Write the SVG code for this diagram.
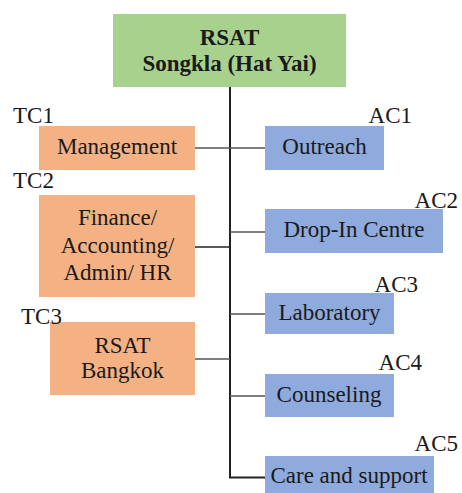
<svg xmlns="http://www.w3.org/2000/svg" width="462" height="493" viewBox="0 0 462 493">
<style>
.t{font-size:23px;fill:#1a1a1a}
.c{text-anchor:middle}
.e{text-anchor:end}
.b{font-weight:bold}
.g{fill:#A9D18E}
.o{fill:#F4B183}
.u{fill:#8FAADC}
.ln{stroke:#222;fill:none}
.lg{stroke:#555;stroke-width:1.5;fill:none}
</style>
<rect width="462" height="493" fill="#fff"/>
<g id="connectors">
<path class="ln" stroke-width="2" d="M230 87V477.5H266"/>
<path class="lg" d="M195 148H266"/>
<path class="ln" stroke-width="1.6" d="M195 247H230"/>
<path class="lg" d="M230 232H266"/>
<path class="lg" d="M230 314H266"/>
<path class="lg" d="M195 359H230"/>
<path class="lg" d="M230 396H266"/>
</g>
<g id="root">
<rect class="g" x="113" y="14" width="233" height="73"/>
<text class="t c b" font-family="Times New Roman" x="229.5" y="45">RSAT</text>
<text class="t c b" font-family="Times New Roman" x="229.5" y="71">Songkla (Hat Yai)</text>
</g>
<g id="tc1">
<text class="t" font-family="Times New Roman" x="13" y="123">TC1</text>
<rect class="o" x="39" y="126" width="156" height="44"/>
<text class="t c" font-family="Times New Roman" x="117" y="154">Management</text>
</g>
<g id="tc2">
<text class="t" font-family="Times New Roman" x="13" y="188">TC2</text>
<rect class="o" x="39" y="195" width="156" height="102"/>
<text class="t c" font-family="Times New Roman" x="117.5" y="225">Finance/</text>
<text class="t c" font-family="Times New Roman" x="117.5" y="253">Accounting/</text>
<text class="t c" font-family="Times New Roman" x="117.5" y="280">Admin/ HR</text>
</g>
<g id="tc3">
<rect class="o" x="50" y="322" width="145" height="73"/>
<text class="t" font-family="Times New Roman" x="21" y="324">TC3</text>
<text class="t c" font-family="Times New Roman" x="122.5" y="353">RSAT</text>
<text class="t c" font-family="Times New Roman" x="122.5" y="378">Bangkok</text>
</g>
<g id="ac1">
<rect class="u" x="265" y="126" width="119" height="44"/>
<text class="t c" font-family="Times New Roman" x="324.5" y="154">Outreach</text>
<text class="t e" font-family="Times New Roman" x="412" y="123">AC1</text>
</g>
<g id="ac2">
<rect class="u" x="265" y="209" width="178" height="44"/>
<text class="t c" font-family="Times New Roman" x="354" y="237">Drop-In Centre</text>
<text class="t e" font-family="Times New Roman" x="458" y="208">AC2</text>
</g>
<g id="ac3">
<rect class="u" x="265" y="293" width="129" height="41"/>
<text class="t c" font-family="Times New Roman" x="329.5" y="320">Laboratory</text>
<text class="t e" font-family="Times New Roman" x="418" y="292">AC3</text>
</g>
<g id="ac4">
<rect class="u" x="265" y="374" width="129" height="43"/>
<text class="t c" font-family="Times New Roman" x="329" y="402">Counseling</text>
<text class="t e" font-family="Times New Roman" x="422" y="370">AC4</text>
</g>
<g id="ac5">
<rect class="u" x="265" y="456" width="169" height="37"/>
<text class="t c" font-family="Times New Roman" x="349" y="483">Care and support</text>
<text class="t e" font-family="Times New Roman" x="458" y="451">AC5</text>
</g>
</svg>
